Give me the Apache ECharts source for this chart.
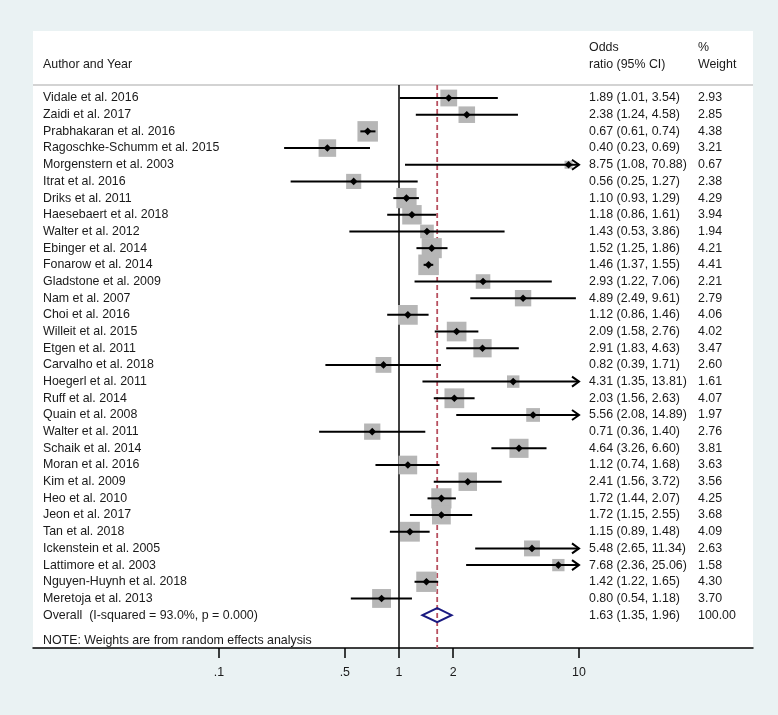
<!DOCTYPE html>
<html><head><meta charset="utf-8">
<script src="https://cdn.jsdelivr.net/npm/echarts@6/dist/echarts.min.js"></script>
<style>html,body{margin:0;padding:0;background:#eaf2f3}#c{width:778px;height:715px}</style>
</head><body><div id="c"></div>
<script>
// ---------------- data ----------------
const studies = ['Vidale et al. 2016','Zaidi et al. 2017','Prabhakaran et al. 2016','Ragoschke-Schumm et al. 2015','Morgenstern et al. 2003','Itrat et al. 2016','Driks et al. 2011','Haesebaert et al. 2018','Walter et al. 2012','Ebinger et al. 2014','Fonarow et al. 2014','Gladstone et al. 2009','Nam et al. 2007','Choi et al. 2016','Willeit et al. 2015','Etgen et al. 2011','Carvalho et al. 2018','Hoegerl et al. 2011','Ruff et al. 2014','Quain et al. 2008','Walter et al. 2011','Schaik et al. 2014','Moran et al. 2016','Kim et al. 2009','Heo et al. 2010','Jeon et al. 2017','Tan et al. 2018','Ickenstein et al. 2005','Lattimore et al. 2003','Nguyen-Huynh et al. 2018','Meretoja et al. 2013'];
const oddsRatio = [1.89,2.38,0.67,0.40,8.75,0.56,1.10,1.18,1.43,1.52,1.46,2.93,4.89,1.12,2.09,2.91,0.82,4.31,2.03,5.56,0.71,4.64,1.12,2.41,1.72,1.72,1.15,5.48,7.68,1.42,0.80];
const ciLow = [1.01,1.24,0.61,0.23,1.08,0.25,0.93,0.86,0.53,1.25,1.37,1.22,2.49,0.86,1.58,1.83,0.39,1.35,1.56,2.08,0.36,3.26,0.74,1.56,1.44,1.15,0.89,2.65,2.36,1.22,0.54];
const ciHigh = [3.54,4.58,0.74,0.69,70.88,1.27,1.29,1.61,3.86,1.86,1.55,7.06,9.61,1.46,2.76,4.63,1.71,13.81,2.63,14.89,1.40,6.60,1.68,3.72,2.07,2.55,1.48,11.34,25.06,1.65,1.18];
const weights = [2.93,2.85,4.38,3.21,0.67,2.38,4.29,3.94,1.94,4.21,4.41,2.21,2.79,4.06,4.02,3.47,2.60,1.61,4.07,1.97,2.76,3.81,3.63,3.56,4.25,3.68,4.09,2.63,1.58,4.30,3.70];
const overallLabel = 'Overall  (I-squared = 93.0%, p = 0.000)';
const overallValues = [1.63, 1.35, 1.96]; // OR, low, high
const overallWeight = 100.00;
const noteText = 'NOTE: Weights are from random effects analysis';
const headerLeft = ['', 'Author and Year'];
const headerMid = ['Odds', 'ratio (95% CI)'];
const headerRight = ['%', 'Weight'];
const xTicks = [0.1, 0.5, 1, 2, 10];
const xTickLabels = ['.1', '.5', '1', '2', '10'];

// ---------------- layout / style ----------------
const FONT = '12.4px "Liberation Sans", Arial, sans-serif';
const TXT = '#1a1a1a';
const X_MIN = Math.pow(10, (33 - 399) / 180);
const X_MAX = Math.pow(10, (753 - 399) / 180);
const Y_MIN = -4.017, Y_MAX = 32.97;
const SEP_ROW = -0.78;
const CLIP_LO = 0.1, CLIP_HI = 10;
const COL_LEFT = 43, COL_MID = 589, COL_RIGHT = 698;
const SQ_K = 9.8;
const nStudies = studies.length;
const overallRow = nStudies;
const noteRow = nStudies + 1.55;

// text rows
const textRows = [];
textRows.push({row: -3, l: headerLeft[0], m: headerMid[0], r: headerRight[0]});
textRows.push({row: -2, l: headerLeft[1], m: headerMid[1], r: headerRight[1]});
studies.forEach((s, i) => textRows.push({
  row: i, l: s,
  m: oddsRatio[i].toFixed(2) + ' (' + ciLow[i].toFixed(2) + ', ' + ciHigh[i].toFixed(2) + ')',
  r: weights[i].toFixed(2)
}));
textRows.push({row: overallRow, l: overallLabel,
  m: overallValues[0].toFixed(2) + ' (' + overallValues[1].toFixed(2) + ', ' + overallValues[2].toFixed(2) + ')',
  r: overallWeight.toFixed(2)});
textRows.push({row: noteRow, l: noteText, m: '', r: ''});

function txt(x, y, s) {
  return {type: 'text', x: x, y: y, style: {text: s, fill: TXT, font: FONT, align: 'left', verticalAlign: 'middle'}};
}

function renderText(params, api) {
  const r = textRows[params.dataIndex];
  const y = api.coord([1, r.row])[1];
  return {type: 'group', children: [txt(COL_LEFT, y, r.l), txt(COL_MID, y, r.m), txt(COL_RIGHT, y, r.r)]};
}

function renderStudy(params, api) {
  const i = params.dataIndex;
  const c = api.coord([oddsRatio[i], i]);
  const loC = api.coord([Math.max(ciLow[i], CLIP_LO), i]);
  const hiC = api.coord([Math.min(ciHigh[i], CLIP_HI), i]);
  const side = SQ_K * Math.sqrt(weights[i]);
  const ch = [
    {type: 'rect', shape: {x: c[0] - side / 2, y: c[1] - side / 2, width: side, height: side}, style: {fill: '#b6b6b6'}},
    {type: 'line', shape: {x1: loC[0], y1: c[1], x2: hiC[0], y2: c[1]}, style: {stroke: '#000', lineWidth: 2}}
  ];
  if (ciHigh[i] > CLIP_HI) {
    ch.push({type: 'polyline', shape: {points: [[hiC[0] - 7, c[1] - 5], [hiC[0], c[1]], [hiC[0] - 7, c[1] + 5]]},
      style: {stroke: '#000', lineWidth: 2, fill: null}});
  }
  if (ciLow[i] < CLIP_LO) {
    ch.push({type: 'polyline', shape: {points: [[loC[0] + 7, c[1] - 5], [loC[0], c[1]], [loC[0] + 7, c[1] + 5]]},
      style: {stroke: '#000', lineWidth: 2, fill: null}});
  }
  ch.push({type: 'polygon', shape: {points: [[c[0] - 3.8, c[1]], [c[0], c[1] - 3.8], [c[0] + 3.8, c[1]], [c[0], c[1] + 3.8]]},
    style: {fill: '#000'}});
  return {type: 'group', children: ch};
}

function renderFrame(params, api) {
  const cs = params.coordSys;
  const sepY = api.coord([1, SEP_ROW])[1];
  const botY = cs.y + cs.height;
  const nullX = api.coord([1, 0])[0];
  const ovX = api.coord([overallValues[0], 0])[0];
  const o = api.coord([overallValues[0], overallRow]);
  const oLo = api.coord([overallValues[1], overallRow]);
  const oHi = api.coord([overallValues[2], overallRow]);
  return {type: 'group', children: [
    {type: 'line', shape: {x1: cs.x, y1: sepY, x2: cs.x + cs.width, y2: sepY}, style: {stroke: '#c4c4c4', lineWidth: 1.5}},
    {type: 'line', shape: {x1: nullX, y1: sepY, x2: nullX, y2: botY}, style: {stroke: '#000', lineWidth: 1.5}},
    {type: 'line', shape: {x1: ovX, y1: sepY, x2: ovX, y2: botY}, style: {stroke: '#b8505f', lineWidth: 1.8, lineDash: [5, 3]}},
    {type: 'polygon', shape: {points: [[oLo[0], o[1]], [o[0], o[1] - 7], [oHi[0], o[1]], [o[0], o[1] + 7]]},
      style: {fill: 'rgba(255,255,255,0)', stroke: '#1a1a80', lineWidth: 2}}
  ]};
}

function tickLabel(v) {
  let best = 0, bd = Infinity;
  xTicks.forEach((t, k) => { const d = Math.abs(Math.log10(t) - Math.log10(v)); if (d < bd) { bd = d; best = k; } });
  return bd < 0.01 ? xTickLabels[best] : '';
}

const chart = echarts.init(document.getElementById('c'), null, {renderer: 'canvas'});
chart.setOption({
  animation: false,
  backgroundColor: '#eaf2f3',
  grid: {left: 33, right: 25, top: 31, bottom: 67, show: true, backgroundColor: '#ffffff', borderWidth: 0},
  xAxis: {
    type: 'log', logBase: 10, min: X_MIN, max: X_MAX, position: 'bottom',
    axisLine: {show: true, onZero: false, lineStyle: {color: '#000', width: 1.5}},
    axisTick: {show: true, length: 10, lineStyle: {color: '#000', width: 1.5}, customValues: xTicks},
    axisLabel: {show: true, customValues: xTicks, formatter: tickLabel, color: TXT, fontSize: 12.4,
      fontFamily: '"Liberation Sans", Arial, sans-serif', margin: 19},
    splitLine: {show: false}, minorTick: {show: false}
  },
  yAxis: {type: 'value', inverse: true, min: Y_MIN, max: Y_MAX, show: false, splitLine: {show: false}},
  series: [
    {type: 'custom', silent: true, clip: false, renderItem: renderFrame, data: [[1, 0]], z: 1},
    {type: 'custom', silent: true, clip: false, renderItem: renderStudy, data: oddsRatio.map((v, i) => [v, i]), z: 2},
    {type: 'custom', silent: true, clip: false, renderItem: renderText, data: textRows.map(r => [1, r.row]), z: 3}
  ]
});
</script></body></html>
